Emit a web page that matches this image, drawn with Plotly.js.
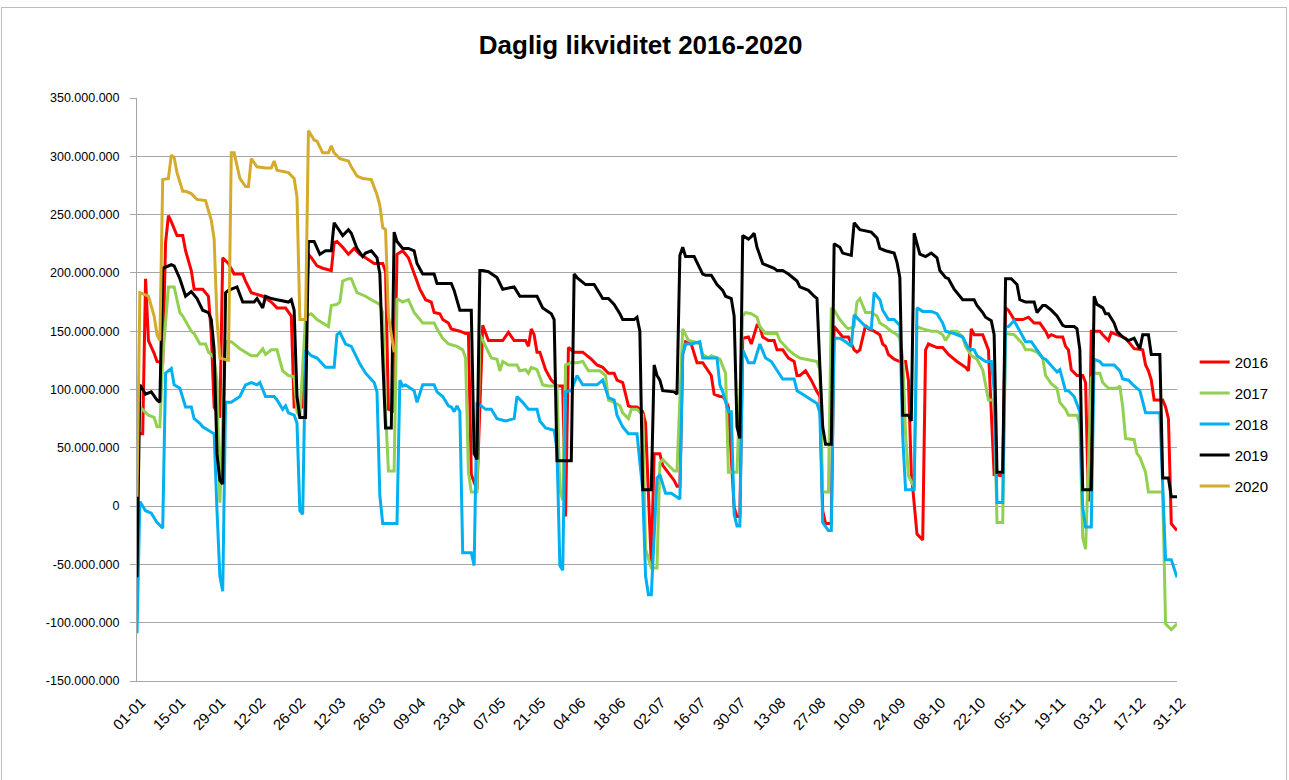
<!DOCTYPE html>
<html><head><meta charset="utf-8">
<script src="https://cdn.plot.ly/plotly-3.0.1.min.js"></script>
<style>
html,body{margin:0;padding:0;background:#fff;overflow:hidden}
#chart{position:absolute;left:0;top:0;width:1289px;height:780px}
#frame{position:absolute;left:1px;top:7px;width:1286px;height:800px;border:1px solid #bcbcbc;box-sizing:border-box;pointer-events:none}
</style></head><body>
<div id="chart"></div>
<div id="frame"></div>
<script>
// Daily liquidity in million DKK; x = day of year (0 = 01-01)
const years = ['2016','2017','2018','2019','2020'];
const colors = ['#FF0000','#92D050','#00B0F0','#000000','#D4AB2A'];

const days2016 = [0,2,3,4,6,7,9,10,11,12,14,16,17,19,20,23,25,26,27,29,30,32,34,37,38,40,44,47,49,52,54,55,58,60,61,63,65,68,69,70,72,74,76,78,80,83,86,87,88,90,91,93,95,96,98,99,101,103,104,106,107,109,110,113,115,116,117,119,121,123,128,130,132,136,137,138,139,140,141,143,145,147,149,150,151,153,156,159,161,163,165,167,168,170,172,173,175,177,178,180,181,183,184,186,188,189,190,191,192,194,196,198,199,201,202,204,205,206,207,209,210,211,212,214,215,217,218,219,221,223,224,226,228,230,231,232,234,236,238,239,240,241,243,244,247,249,251,252,253,255,256,258,260,261,262,263,265,267,269,270,271,273,275,276,277,280,282,284,287,289,290,291,292,293,296,298,300,303,304,305,307,310,312,314,316,318,319,320,322,324,325,326,327,329,331,332,333,334,337,338,340,341,343,345,346,349,351,352,353,354,355,356,359,360,361,362,364];
const vals2016 = [62,62,195,142,131,124,123,226,249,244,232,232,219,202,186,186,180,147,85,76,213,208,199,199,193,183,180,175,170,170,163,85,85,216,213,206,204,202,226,227,222,216,221,216,213,208,208,201,83,81,216,219,213,206,193,186,177,175,166,165,160,157,152,150,148,148,27,14,155,142,142,149,142,142,137,152,147,132,132,117,108,103,103,-9,136,132,132,126,121,119,114,114,108,106,86,85,85,81,71,-50,45,45,35,29,22,17,17,130,141,139,123,123,119,112,96,94,94,91,85,-1,-9,-9,144,145,139,155,154,145,142,142,134,134,127,124,112,112,116,108,98,94,-4,-15,-15,154,145,145,134,132,134,155,152,150,147,139,137,130,126,124,124,108,29,-24,-29,134,139,136,136,130,124,121,119,116,152,147,147,134,27,26,170,168,160,160,162,157,157,150,145,147,145,145,137,134,117,112,112,106,4,150,150,147,142,149,147,145,144,135,134,134,121,116,108,91,91,85,75,-15,-21];

const days2017 = [0,1,4,6,7,8,9,11,13,15,16,19,20,22,24,25,26,27,28,29,31,33,36,38,40,42,44,45,47,49,51,53,55,56,57,59,61,63,65,67,68,70,71,72,74,75,77,80,82,85,86,87,88,90,91,93,95,97,98,100,104,105,107,109,112,114,115,116,117,119,120,122,124,126,127,128,130,133,134,136,137,138,140,142,144,147,148,149,150,152,154,156,158,159,162,164,165,167,169,170,172,173,175,177,178,180,182,183,184,186,188,189,190,191,193,195,197,198,200,201,204,206,207,210,212,213,215,217,218,220,224,225,228,230,232,234,238,239,240,242,243,244,246,248,249,251,252,253,255,257,259,260,262,264,266,267,268,269,270,272,273,275,278,280,282,283,285,287,289,290,292,294,296,297,298,300,301,303,304,307,310,311,313,315,317,318,320,322,323,325,326,329,330,331,332,334,335,337,338,340,343,344,345,346,349,350,351,353,354,359,360,362,364];
const vals2017 = [94,85,78,76,68,68,127,188,188,166,163,150,148,139,139,132,130,127,107,3,141,141,135,132,129,129,135,130,134,134,116,112,111,81,76,163,165,160,157,154,172,173,175,193,195,195,183,180,177,173,166,80,30,30,178,175,177,166,163,157,157,152,144,139,137,134,127,29,12,12,147,137,127,126,116,124,121,121,116,117,114,119,117,104,103,103,14,5,121,123,123,124,116,116,116,112,91,89,86,80,75,83,83,78,-37,-53,-53,37,40,35,30,30,94,152,142,141,139,130,127,129,126,114,29,29,163,166,165,162,154,148,148,142,134,130,127,126,124,117,12,12,170,168,160,154,152,154,175,178,166,166,163,157,154,150,147,144,127,62,26,16,154,152,150,150,147,142,150,150,145,137,129,126,117,104,91,91,-14,-14,148,147,139,134,134,132,127,112,105,101,89,83,78,78,70,-27,-37,110,114,114,106,101,101,103,85,58,57,45,42,29,12,12,-101,-106,-101];

const days2018 = [0,1,3,5,7,9,10,12,13,15,17,19,20,22,23,26,27,28,29,30,31,33,36,38,40,42,43,45,48,49,51,52,53,55,56,57,58,59,61,63,66,69,70,71,73,75,77,78,80,83,84,85,86,91,92,93,94,96,97,98,100,104,105,107,109,110,111,112,113,114,117,118,119,122,124,126,129,132,133,135,137,140,141,143,146,147,148,149,150,152,154,156,159,161,163,165,167,168,170,172,175,177,178,179,180,182,183,184,185,187,189,190,191,192,194,197,198,200,203,204,205,207,208,209,210,211,212,214,216,218,220,222,224,226,230,231,233,235,238,239,240,242,243,244,246,248,250,251,253,255,257,258,260,261,263,265,267,268,269,272,273,275,278,280,282,283,286,289,291,293,294,296,297,299,300,301,303,304,305,307,309,311,313,315,317,318,320,322,323,325,326,328,330,331,332,334,335,337,338,342,344,345,347,349,351,352,353,358,359,360,362,364];
const vals2018 = [-109,4,-4,-6,-14,-19,114,118,104,101,85,85,75,71,68,63,62,-4,-60,-73,89,89,94,104,106,104,106,94,94,91,83,86,80,78,71,-4,-7,134,129,127,119,119,147,149,139,137,126,122,114,106,98,9,-15,-15,108,103,104,101,99,89,104,104,98,94,86,85,81,86,81,-40,-40,-51,89,83,83,75,73,75,94,89,83,83,73,67,65,48,-51,-55,98,99,112,104,104,104,108,93,91,78,68,62,62,14,-60,-76,-76,24,27,19,11,11,8,6,130,139,139,141,127,127,127,104,98,81,81,-7,-17,-17,134,123,123,139,127,124,116,109,109,99,96,93,88,80,-14,-21,-21,144,144,141,137,164,159,154,152,183,177,168,160,160,155,60,14,14,170,167,167,165,157,150,148,145,135,134,129,126,124,124,100,3,3,154,154,159,150,141,141,134,127,126,120,115,117,99,99,94,81,-1,-18,-18,126,124,121,121,116,109,108,103,99,89,80,80,20,-46,-46,-61];

const days2019 = [0,1,3,5,7,8,9,12,13,15,17,19,21,23,25,26,27,28,29,30,31,32,35,37,40,41,42,44,45,47,49,53,54,55,56,57,59,60,62,64,66,68,69,70,72,74,75,77,79,80,82,84,85,86,87,89,90,91,93,95,97,98,100,104,105,110,111,113,117,118,119,120,121,123,126,128,132,134,140,142,145,146,147,152,153,154,157,160,161,163,165,167,169,170,174,175,176,177,180,181,182,183,184,188,189,190,191,192,195,196,198,199,201,203,205,206,208,209,210,211,212,214,215,216,217,219,221,223,224,226,228,231,232,235,237,238,239,240,241,243,244,246,247,250,251,253,257,259,260,262,265,266,267,268,270,271,272,274,276,278,280,281,283,284,286,289,293,294,296,297,299,300,301,303,304,306,308,309,311,314,315,317,318,320,322,324,325,328,329,330,331,334,335,336,338,339,340,342,343,345,347,349,350,351,352,354,355,358,359,361,362,364];
const vals2019 = [-61,104,96,98,91,89,204,207,206,195,180,184,178,168,166,160,134,45,22,19,183,185,188,175,175,175,178,170,180,178,177,175,177,168,94,76,76,227,227,216,219,219,243,239,232,237,234,221,214,217,219,213,199,127,67,67,235,227,221,221,219,208,199,199,191,191,185,168,168,45,40,202,202,201,196,186,188,180,180,170,165,160,39,39,199,196,190,190,186,178,178,173,165,160,160,162,150,14,14,121,112,108,99,98,96,215,222,214,214,209,199,198,198,190,185,180,178,163,68,58,232,229,231,234,222,208,206,204,202,202,199,193,188,185,180,178,120,68,53,53,225,222,217,215,243,237,235,230,221,219,217,209,196,78,78,73,234,216,214,217,213,202,196,195,186,177,177,172,166,162,159,147,29,29,195,195,190,177,175,175,166,172,172,168,163,155,154,154,152,134,14,14,180,173,170,165,165,157,150,145,142,144,139,135,147,147,130,130,24,24,8,8];

const days2020 = [0,1,4,6,7,8,9,11,12,13,14,16,17,19,21,24,26,27,28,29,32,33,34,36,38,39,40,42,45,47,48,49,53,55,56,57,59,60,62,63,65,67,68,69,71,74,75,77,79,82,84,85,86,87,88,90];
const vals2020 = [8,183,180,163,147,142,280,281,301,299,286,270,270,268,263,262,245,229,160,127,125,303,303,281,274,274,298,291,290,290,296,288,286,281,265,160,160,322,314,313,303,303,309,303,298,296,291,283,281,280,267,258,239,237,163,132];

const tickLabels = ['01-01','15-01','29-01','12-02','26-02','12-03','26-03','09-04','23-04','07-05','21-05','04-06','18-06','02-07','16-07','30-07','13-08','27-08','10-09','24-09','08-10','22-10','05-11','19-11','03-12','17-12','31-12'];
const yTicks = [-150,-100,-50,0,50,100,150,200,250,300,350];

const series = [[days2016,vals2016],[days2017,vals2017],[days2018,vals2018],[days2019,vals2019],[days2020,vals2020]];

function fmt(m){
  if(m===0) return '0';
  const s = String(Math.abs(m)*1000000).replace(/\B(?=(\d{3})+(?!\d))/g,'.');
  return (m<0?'-':'') + s;
}

const FONT = 'Liberation Sans, Arial, sans-serif';
const traces = series.map((s,i)=>({
  x: s[0], y: s[1], type:'scatter', mode:'lines', name: years[i],
  legendgroup: years[i],
  line:{color: colors[i], width:3}
}));

const layout = {
  width:1289, height:780,
  margin:{l:137, r:112, t:98, b:99, pad:0},
  paper_bgcolor:'#ffffff', plot_bgcolor:'#ffffff',
  font:{family:FONT, size:12, color:'#000000'},
  title:{text:'<b>Daglig likviditet 2016-2020</b>', font:{family:FONT, size:26, color:'#000000'},
         xref:'container', x:0.497, xanchor:'center', yref:'container', y:0.943, yanchor:'middle'},
  xaxis:{range:[0,364], tickmode:'array', tickvals: tickLabels.map((_,i)=>i*14), ticktext: tickLabels,
         tickangle:-45, showgrid:false, zeroline:false, showline:true, linecolor:'#a6a6a6', linewidth:1,
         ticks:'', ticklabelstandoff:6, ticklabelshift:4, tickfont:{family:FONT, size:15, color:'#000'}, fixedrange:true},
  yaxis:{range:[-150,350], tickmode:'array', tickvals:yTicks, ticktext: yTicks.map(fmt),
         showgrid:true, gridcolor:'#a6a6a6', gridwidth:1, zeroline:false, showline:true, linecolor:'#a6a6a6', linewidth:1,
         ticks:'outside', ticklen:6, tickcolor:'#a6a6a6', ticklabelstandoff:8,
         tickfont:{family:FONT, size:12.5, color:'#000'}, fixedrange:true},
  showlegend:true,
  legend:{x:1.017, xanchor:'left', y:0.575, yanchor:'top', font:{family:FONT, size:15, color:'#000'},
          tracegroupgap:8.5, bgcolor:'rgba(0,0,0,0)', itemclick:false, itemdoubleclick:false}
};

Plotly.newPlot('chart', traces, layout, {displayModeBar:false, staticPlot:true});
</script>
</body></html>
